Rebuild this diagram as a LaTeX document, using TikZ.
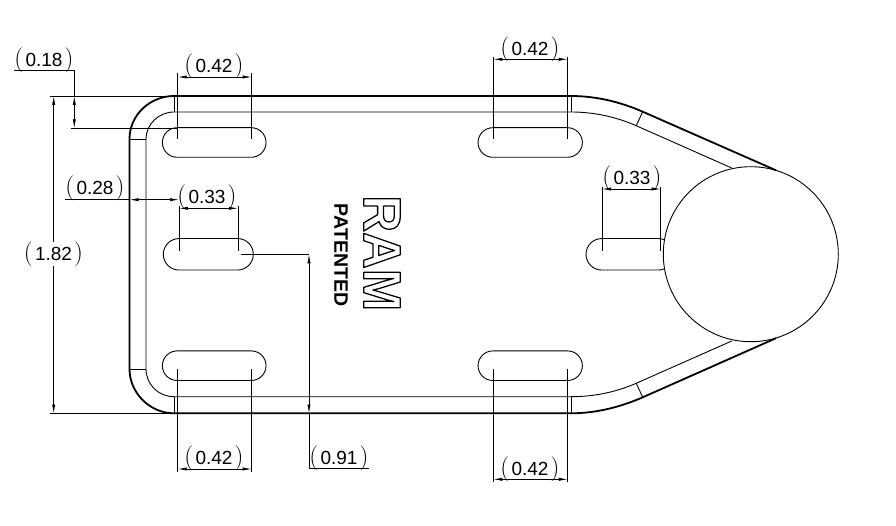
\documentclass[tikz,border=0pt]{standalone}
\usepackage{fontspec}
\setsansfont{Liberation Sans}
\usetikzlibrary{arrows.meta,shapes.misc}
\newcommand{\dimtxt}[1]{{\rmfamily\fontsize{25}{25}\selectfont(}\kern2.2pt#1\kern2.2pt{\rmfamily\fontsize{25}{25}\selectfont)}}
\newcommand{\outlinetxt}[1]{\special{pdf:code 1 Tr 1.3 w}#1\special{pdf:code 0 Tr}}
\begin{document}
\begin{tikzpicture}[x=1pt,y=-1pt,line join=round]
	\tikzstyle{Slot} = [rounded rectangle, draw, line width=0.9pt, minimum height=29.6pt, inner sep=0pt, outer sep=0pt]
	\tikzstyle{Ball} = [circle, draw, fill=white, line width=0.9pt, minimum size=175pt, inner sep=0pt, outer sep=0pt]
	\tikzstyle{Edge} = [line width=1.8pt]
	\tikzstyle{Thin} = [line width=0.9pt]
	\tikzstyle{Ext} = [line width=0.8pt]
	\tikzstyle{Dim} = [line width=0.7pt, {Latex[length=9pt,width=3.2pt]}-{Latex[length=9pt,width=3.2pt]}]
	\tikzstyle{Value} = [font=\sffamily\fontsize{19}{19}\selectfont, inner sep=0pt]
	\useasboundingbox (0,0) rectangle (896,526);
	% slots
	\node (slotTL) at (214.2,142.5) [Slot, minimum width=103.7pt] {};
	\node (slotBL) at (214.2,365.7) [Slot, minimum width=103.7pt] {};
	\node (slotTR) at (530.2,142.5) [Slot, minimum width=104.3pt] {};
	\node (slotBR) at (530.2,365.7) [Slot, minimum width=104.3pt] {};
	\node (slotML) at (208.3,254.3) [Slot, minimum width=90pt, minimum height=31.5pt] {};
	\node (slotMR) at (630,254.3) [Slot, minimum width=88pt, minimum height=31.5pt] {};
	\node (ball) at (750.8,254.2) [Ball] {};
	% plate outline
	\draw [Edge] (776,170.3) -- (642.7,111.7) .. controls (620.1,101.8) and (595.7,96) .. (571,96)
		-- (174,96) .. controls (150,96) and (129.5,115) .. (129.5,139)
		-- (129.5,369) .. controls (129.5,393) and (150,413.3) .. (174,413.3)
		-- (571,413.3) .. controls (595.7,413.3) and (620.1,407.2) .. (642.7,397.3) -- (776,338.2);
	\draw [Thin] (731.7,168) -- (636.2,125.7) .. controls (615.6,116.7) and (593.5,112) .. (571,112)
		-- (174,112) .. controls (158.5,112) and (146,124.5) .. (146,139)
		-- (146,369) .. controls (146,384.5) and (158.5,396.7) .. (174,396.7)
		-- (571,396.7) .. controls (593.5,396.7) and (615.6,392.3) .. (636.2,383.3) -- (731.7,341);
	% bend lines
	\draw [Thin] (174,96) -- (174,112);
	\draw [Thin] (571,96) -- (571,112);
	\draw [Thin] (174,413.3) -- (174,396.7);
	\draw [Thin] (571,413.3) -- (571,396.7);
	\draw [Thin] (129.5,139) -- (146,139);
	\draw [Thin] (129.5,369) -- (146,369);
	\draw [Thin] (642.7,111.7) -- (636.2,125.7);
	\draw [Thin] (642.7,397.3) -- (636.2,383.3);
	% logo
	\node (ram) at (382,253.3) [rotate=-90, xscale=0.96, inner sep=0pt, font=\sffamily\bfseries\fontsize{53}{53}\selectfont] {\outlinetxt{RAM}};
	\node (patented) at (341,255) [rotate=-90, inner sep=0pt, font=\sffamily\bfseries\fontsize{19.5}{20}\selectfont] {PATENTED};
	% extension lines
	\draw [Ext] (177.7,73) -- (177.7,139.3);
	\draw [Ext] (251.7,73) -- (251.7,139.3);
	\draw [Ext] (493.3,56.7) -- (493.3,139.3);
	\draw [Ext] (567.7,56.7) -- (567.7,139.3);
	\draw [Ext] (602,186.7) -- (602,251);
	\draw [Ext] (660.7,186.7) -- (660.7,251);
	\draw [Ext] (179,205.7) -- (179,251);
	\draw [Ext] (238,205.7) -- (238,251);
	\draw [Ext] (177.7,369.3) -- (177.7,471.7);
	\draw [Ext] (251.7,369.3) -- (251.7,471.7);
	\draw [Ext] (493.3,369.3) -- (493.3,481.7);
	\draw [Ext] (567.7,369.3) -- (567.7,481.7);
	\draw [Ext] (50,96) -- (174,96);
	\draw [Ext] (50,413.5) -- (174,413.5);
	\draw [Ext] (71,128.3) -- (178,128.3);
	% dimensions
	\draw [Dim] (177.7,77) -- (251.7,77);
	\draw [Dim] (493.3,59.3) -- (567.7,59.3);
	\draw [Dim] (602,189) -- (660.7,189);
	\draw [Dim] (179,208.3) -- (238,208.3);
	\draw [Dim] (177.7,469) -- (251.7,469);
	\draw [Dim] (493.3,479.3) -- (567.7,479.3);
	\draw [Dim] (53.7,96) -- (53.7,413.5);
	\draw [Ext] (65,199.7) -- (129.5,199.7);
	\draw [Dim] (129.5,199.7) -- (179,199.7);
	\draw [Ext] (14.3,70.3) -- (74.3,70.3) -- (74.3,96);
	\draw [Dim] (74.3,96) -- (74.3,128.3);
	\draw [Ext] (241,254.3) -- (309,254.3);
	\draw [Dim] (309,254.3) -- (309,413.5);
	\draw [Ext] (309,413.5) -- (309,468.3) -- (369,468.3);
	% labels
	\node (lblA) at (44,60) [Value] {\dimtxt{0.18}};
	\node (lblB) at (214,66) [Value] {\dimtxt{0.42}};
	\node (lblC) at (530,49.5) [Value] {\dimtxt{0.42}};
	\node (lblD) at (632,178) [Value] {\dimtxt{0.33}};
	\node (lblE) at (207,197) [Value] {\dimtxt{0.33}};
	\node (lblF) at (95,188.5) [Value] {\dimtxt{0.28}};
	\node (lblG) at (53.5,254) [Value, fill=white] {\dimtxt{1.82}};
	\node (lblH) at (214,458) [Value] {\dimtxt{0.42}};
	\node (lblI) at (339,458) [Value] {\dimtxt{0.91}};
	\node (lblJ) at (530,469) [Value] {\dimtxt{0.42}};
\end{tikzpicture}
\end{document}
